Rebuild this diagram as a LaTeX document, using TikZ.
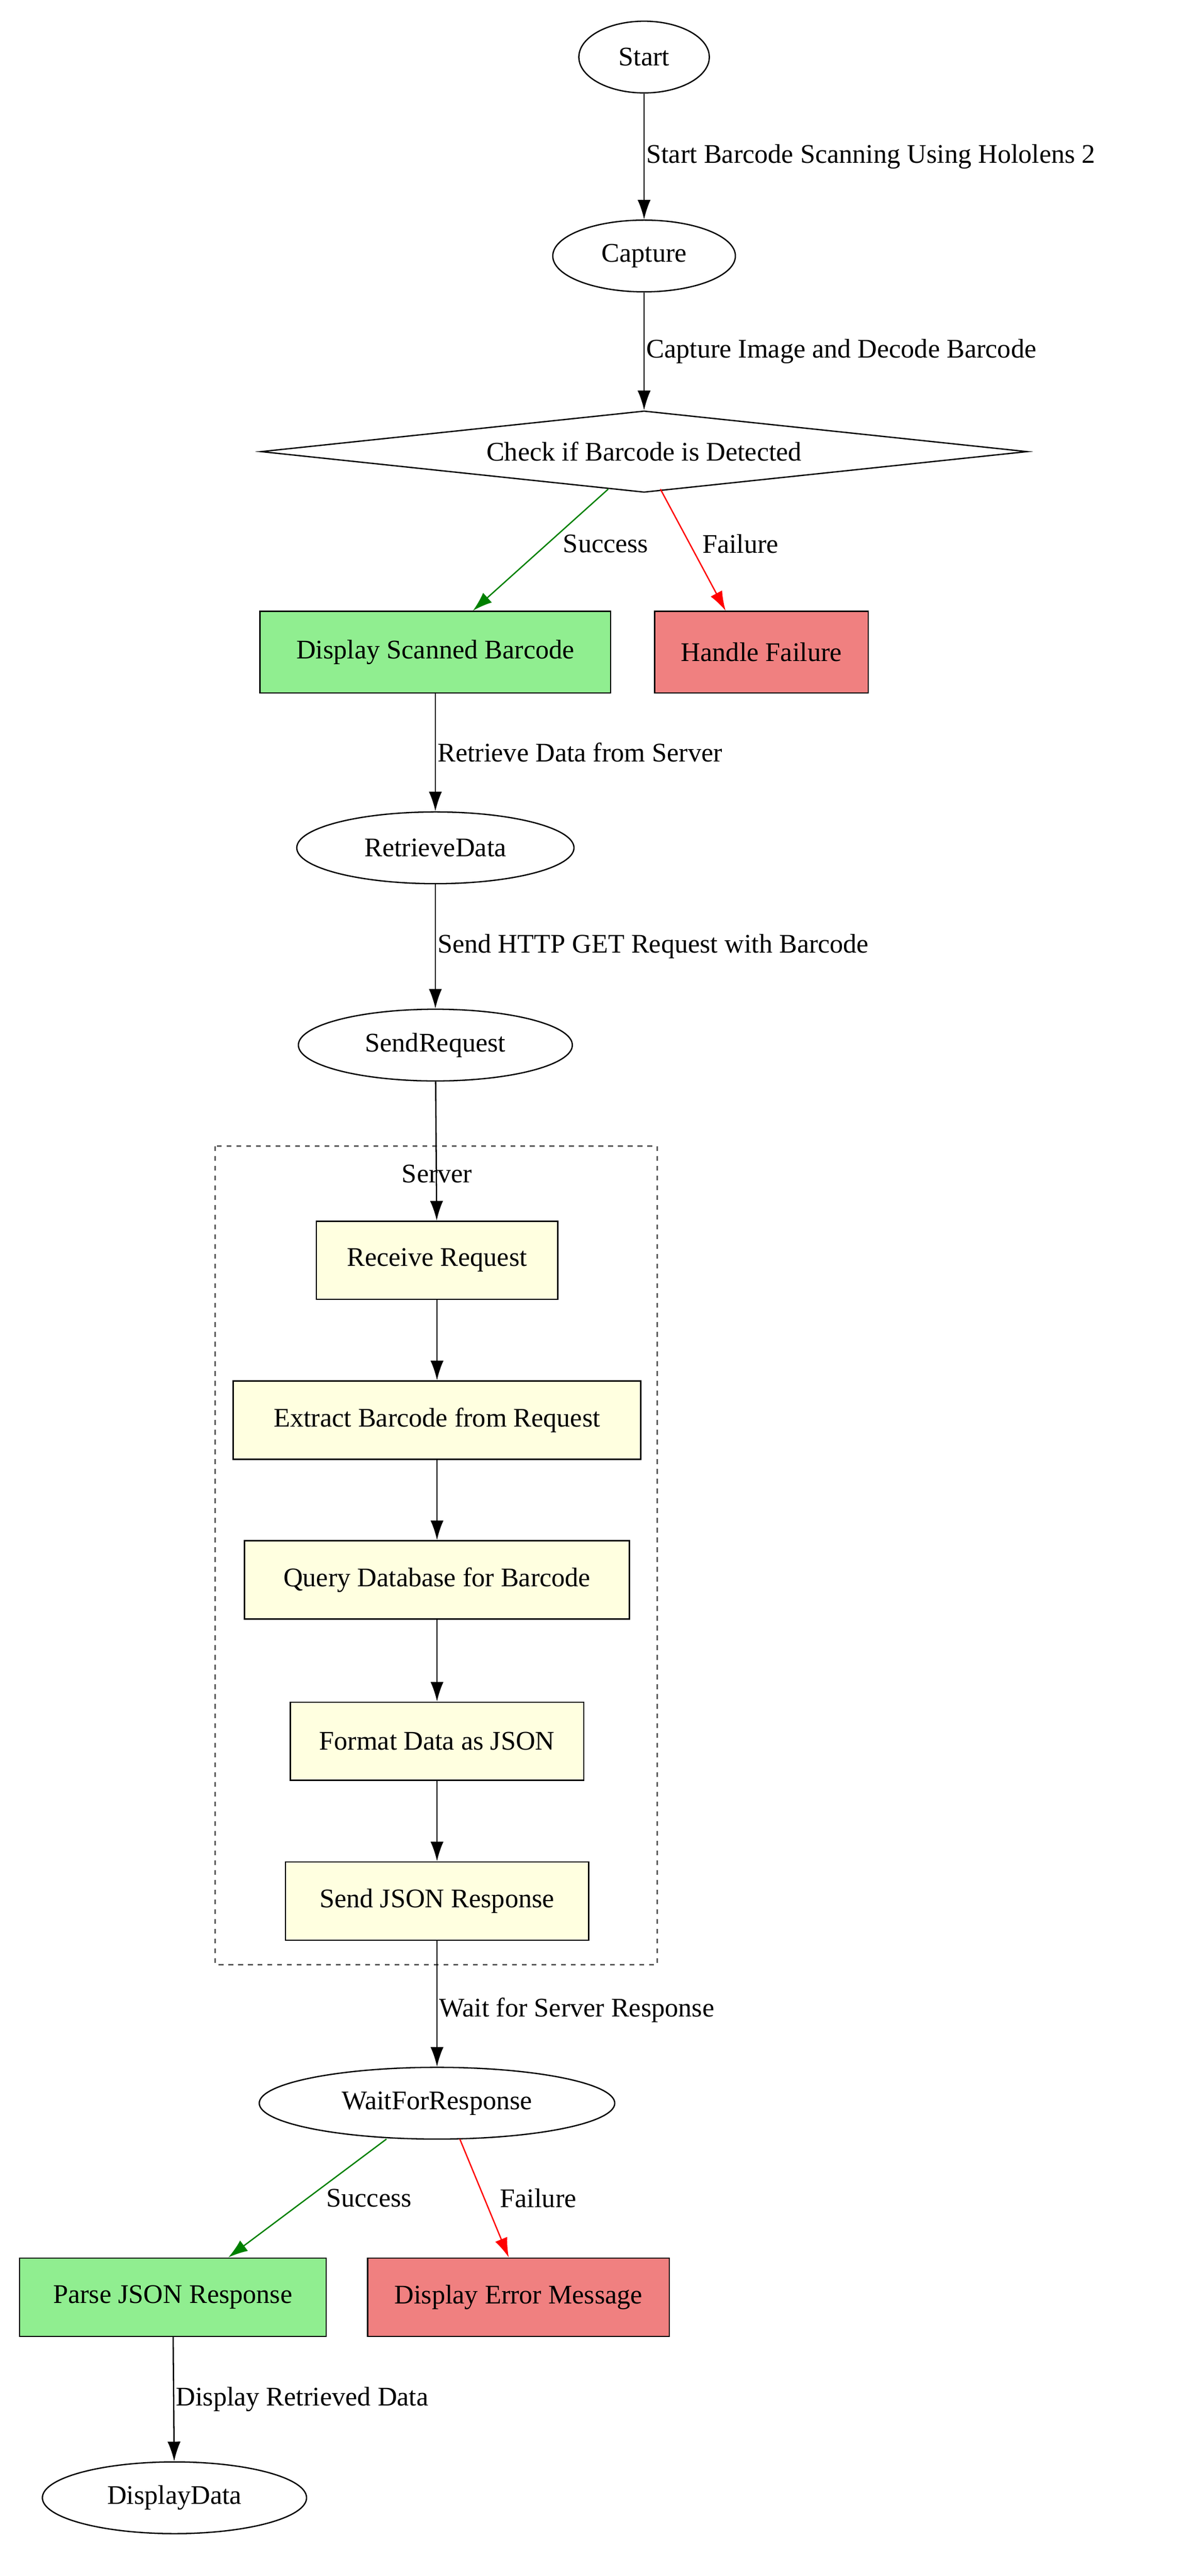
\documentclass[tikz,border=0pt]{standalone}
\usepackage{fontspec}
\setmainfont{Liberation Serif}
\usetikzlibrary{shapes.geometric,arrows.meta}
\begin{document}
\begin{tikzpicture}[x=1pt,y=-1pt,font=\fontsize{16.5}{19}\selectfont,
  el/.style={ellipse,draw,thick,minimum height=44pt,inner sep=0pt},
  box/.style={rectangle,draw,thick,minimum height=48pt,inner sep=0pt},
  lab/.style={anchor=west,inner sep=1pt},
  e/.style={-{Latex[length=12pt,width=8pt]},thick},
  ok/.style={e,draw=green!50!black,fill=green!50!black},
  bad/.style={e,draw=red,fill=red}]
\useasboundingbox (0,0) rectangle (724,1580);
\definecolor{lgreen}{HTML}{90EE90}\definecolor{lcoral}{HTML}{F08080}\definecolor{lyellow}{HTML}{FFFFE0}
\node[el,minimum width=80pt] (start) at (395,35) {Start};
\node[el,minimum width=112pt] (cap) at (395,157) {Capture};
\node[diamond,draw,thick,aspect=9.4,minimum width=470pt,minimum height=50pt,inner sep=0pt] (chk) at (395,277) {Check if Barcode is Detected};
\node[box,fill=lgreen,minimum width=215pt,minimum height=50pt] (disp) at (267,400) {Display Scanned Barcode};
\node[box,fill=lcoral,minimum width=131pt,minimum height=50pt] (hf) at (467,400) {Handle Failure};
\node[el,minimum width=170pt] (rd) at (267,520) {RetrieveData};
\node[el,minimum width=168pt] (sr) at (267,641) {SendRequest};
\draw[thick,dashed,gray!70!black] (132,703) rectangle (403,1205);
\node (srv) at (268,720) {Server};
\node[box,fill=lyellow,minimum width=148pt] (rr) at (268,773) {Receive Request};
\node[box,fill=lyellow,minimum width=250pt] (ex) at (268,871) {Extract Barcode from Request};
\node[box,fill=lyellow,minimum width=236pt] (qd) at (268,969) {Query Database for Barcode};
\node[box,fill=lyellow,minimum width=180pt] (fd) at (268,1068) {Format Data as JSON};
\node[box,fill=lyellow,minimum width=186pt] (sj) at (268,1166) {Send JSON Response};
\node[el,minimum width=218pt] (wr) at (268,1290) {WaitForResponse};
\node[box,fill=lgreen,minimum width=188pt] (pj) at (106,1409) {Parse JSON Response};
\node[box,fill=lcoral,minimum width=185pt] (de) at (318,1409) {Display Error Message};
\node[el,minimum width=162pt] (dd) at (107,1532) {DisplayData};
\draw[e] (start) -- (cap) node[lab,midway] {Start Barcode Scanning Using Hololens 2};
\draw[e] (cap) -- (chk) node[lab,midway] {Capture Image and Decode Barcode};
\draw[ok] (373,300) -- (disp.north -| 290,0) node[pos=0.45,anchor=west,xshift=6pt,text=black] {Success};
\draw[bad] (405,300) -- (hf.north -| 445,0) node[pos=0.45,anchor=west,xshift=4pt,text=black] {Failure};
\draw[e] (disp) -- (rd) node[lab,midway] {Retrieve Data from Server};
\draw[e] (rd) -- (sr) node[lab,midway] {Send HTTP GET Request with Barcode};
\draw[e] (sr) -- (rr);
\draw[e] (rr) -- (ex);
\draw[e] (ex) -- (qd);
\draw[e] (qd) -- (fd);
\draw[e] (fd) -- (sj);
\draw[e] (sj) -- (wr) node[lab,midway,yshift=-4pt] {Wait for Server Response};
\draw[ok] (237,1312) -- (pj.north -| 140,0) node[pos=0.5,anchor=west,xshift=8pt,text=black] {Success};
\draw[bad] (282,1312) -- (de.north -| 312,0) node[pos=0.5,anchor=west,xshift=6pt,text=black] {Failure};
\draw[e] (pj) -- (dd) node[lab,midway] {Display Retrieved Data};
\end{tikzpicture}
\end{document}
